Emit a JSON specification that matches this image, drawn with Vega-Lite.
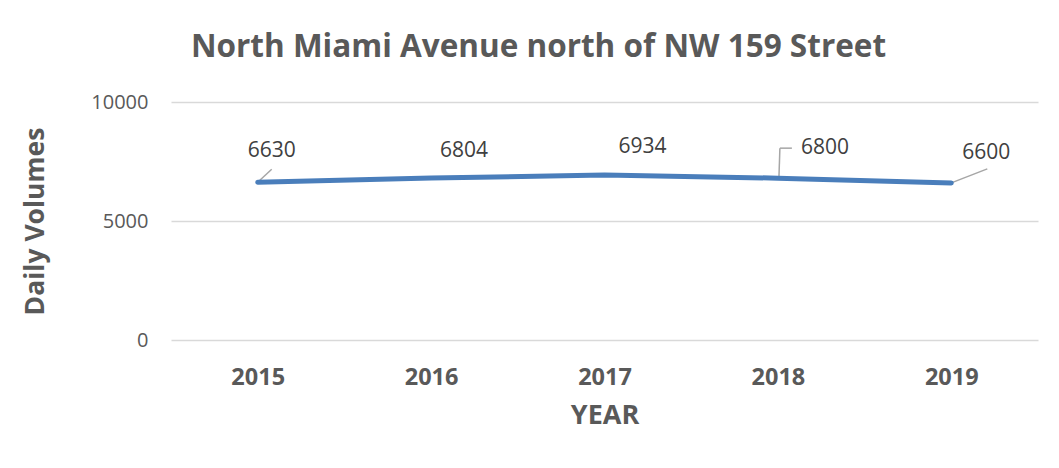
{
  "$schema": "https://vega.github.io/schema/vega-lite/v6.json",
  "width": 867,
  "height": 238,
  "autosize": {"type": "none"},
  "padding": {"left": 171, "top": 102, "right": 21, "bottom": 128},
  "background": "white",
  "config": {"view": {"stroke": null}, "font": "Open Sans"},
  "title": {
    "text": "North Miami Avenue north of NW 159 Street",
    "anchor": "middle",
    "dx": -66,
    "offset": 29,
    "fontSize": 31.5,
    "fontWeight": "bold",
    "color": "#595959",
    "font": "Open Sans"
  },
  "data": {
    "values": [
      {"year": "2015", "volume": 6630},
      {"year": "2016", "volume": 6804},
      {"year": "2017", "volume": 6934},
      {"year": "2018", "volume": 6800},
      {"year": "2019", "volume": 6600}
    ]
  },
  "encoding": {
    "x": {
      "field": "year",
      "type": "ordinal",
      "scale": {"type": "point", "padding": 0.5},
      "axis": {
        "title": "YEAR",
        "labelAngle": 0,
        "domain": false,
        "ticks": false,
        "labelPadding": 25,
        "labelFontSize": 23.5,
        "labelFontWeight": "bold",
        "labelColor": "#595959",
        "labelFont": "Open Sans",
        "titleFontSize": 27,
        "titleFontWeight": "bold",
        "titleColor": "#595959",
        "titleFont": "Open Sans",
        "titleY": 75,
        "titleBaseline": "middle"
      }
    },
    "y": {
      "field": "volume",
      "type": "quantitative",
      "scale": {"domain": [0, 10000], "nice": false},
      "axis": {
        "title": "Daily Volumes",
        "values": [0, 5000, 10000],
        "format": "d",
        "domain": false,
        "ticks": false,
        "labelPadding": 23,
        "labelFontSize": 20,
        "labelColor": "#595959",
        "labelFont": "Open Sans",
        "gridColor": "#d9d9d9",
        "gridWidth": 1.5,
        "titleFontSize": 26.5,
        "titleFontWeight": "bold",
        "titleColor": "#595959",
        "titleFont": "Open Sans",
        "titleX": -136,
        "titleY": 119,
        "titleAngle": -90,
        "titleAlign": "center",
        "titleBaseline": "middle"
      }
    }
  },
  "layer": [
    {
      "transform": [{"filter": "datum.year == '2015'"}],
      "mark": {"type": "rule", "color": "#a6a6a6", "strokeWidth": 1.5, "x2Offset": 14, "y2Offset": -13},
      "encoding": {"x2": {"field": "year"}, "y2": {"field": "volume"}}
    },
    {
      "transform": [{"filter": "datum.year == '2019'"}],
      "mark": {"type": "rule", "color": "#a6a6a6", "strokeWidth": 1.5, "x2Offset": 36, "y2Offset": -14},
      "encoding": {"x2": {"field": "year"}, "y2": {"field": "volume"}}
    },
    {
      "transform": [{"filter": "datum.year == '2018'"}],
      "mark": {"type": "rule", "color": "#a6a6a6", "strokeWidth": 1.5, "xOffset": 1, "x2Offset": 2, "y2Offset": -30},
      "encoding": {"x2": {"field": "year"}, "y2": {"field": "volume"}}
    },
    {
      "transform": [{"filter": "datum.year == '2018'"}],
      "mark": {"type": "rule", "color": "#a6a6a6", "strokeWidth": 1.5, "xOffset": 2, "x2Offset": 14, "yOffset": -30, "y2Offset": -30},
      "encoding": {"x2": {"field": "year"}, "y2": {"field": "volume"}}
    },
    {
      "mark": {"type": "line", "color": "#4a7ebb", "strokeWidth": 5, "strokeCap": "round", "strokeJoin": "round"}
    },
    {
      "transform": [{"filter": "datum.year == '2015'"}],
      "mark": {"type": "text", "dx": 14, "dy": -31, "fontSize": 21, "color": "#404040", "font": "Open Sans"},
      "encoding": {"text": {"field": "volume", "type": "quantitative", "format": "d"}}
    },
    {
      "transform": [{"filter": "datum.year == '2016'"}],
      "mark": {"type": "text", "dx": 33, "dy": -27, "fontSize": 21, "color": "#404040", "font": "Open Sans"},
      "encoding": {"text": {"field": "volume", "type": "quantitative", "format": "d"}}
    },
    {
      "transform": [{"filter": "datum.year == '2017'"}],
      "mark": {"type": "text", "dx": 38, "dy": -28, "fontSize": 21, "color": "#404040", "font": "Open Sans"},
      "encoding": {"text": {"field": "volume", "type": "quantitative", "format": "d"}}
    },
    {
      "transform": [{"filter": "datum.year == '2018'"}],
      "mark": {"type": "text", "dx": 47, "dy": -30, "fontSize": 21, "color": "#404040", "font": "Open Sans"},
      "encoding": {"text": {"field": "volume", "type": "quantitative", "format": "d"}}
    },
    {
      "transform": [{"filter": "datum.year == '2019'"}],
      "mark": {"type": "text", "dx": 35, "dy": -30, "fontSize": 21, "color": "#404040", "font": "Open Sans"},
      "encoding": {"text": {"field": "volume", "type": "quantitative", "format": "d"}}
    }
  ]
}
